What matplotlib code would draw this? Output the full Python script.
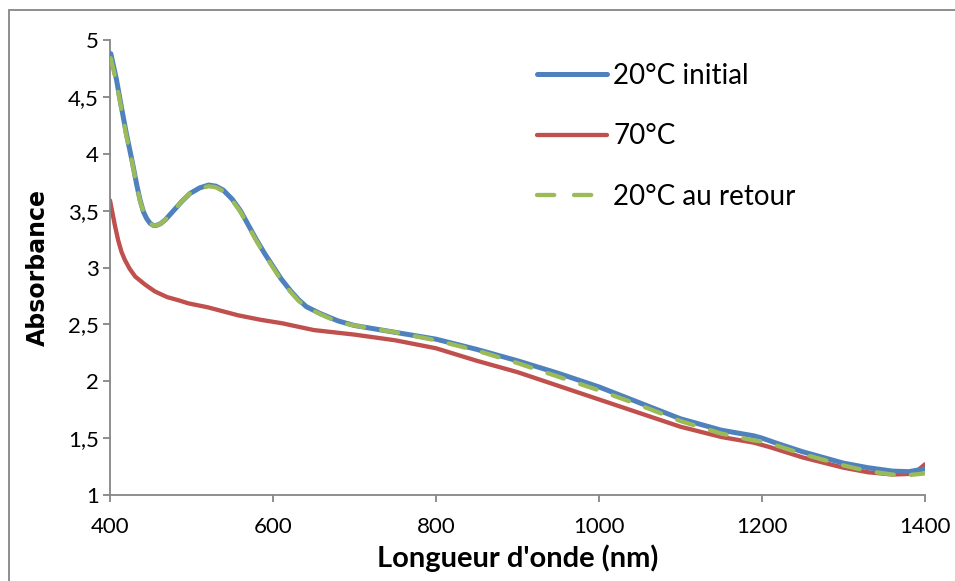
import matplotlib
matplotlib.use("Agg")
import matplotlib.pyplot as plt
from matplotlib.lines import Line2D

plt.rcParams['font.family'] = ['Lato', 'DejaVu Sans']

# 20°C initial
wl_blue = [401, 408, 414, 420, 427, 433, 437, 441, 445, 449, 453, 457, 462, 468, 478, 488, 498, 510,
           521, 530, 539, 550, 560, 570, 580, 590, 600, 610, 621, 631, 641, 658, 680, 700,
           750, 800, 850, 900, 950, 1000, 1050, 1100, 1150, 1190, 1200, 1220, 1250, 1300,
           1330, 1360, 1380, 1400]
abs_blue = [4.88, 4.65, 4.41, 4.18, 3.94, 3.72, 3.59, 3.49, 3.43, 3.39, 3.37, 3.37, 3.385, 3.42, 3.50, 3.58, 3.65, 3.70,
            3.725, 3.715, 3.68, 3.60, 3.50, 3.37, 3.24, 3.12, 3.01, 2.90, 2.80, 2.72, 2.655, 2.595, 2.53, 2.49,
            2.43, 2.37, 2.28, 2.18, 2.07, 1.95, 1.81, 1.67, 1.57, 1.52, 1.50, 1.45, 1.38, 1.28,
            1.24, 1.21, 1.205, 1.23]

# 70°C
wl_red = [400, 403, 406, 410, 414, 418, 424, 431, 443, 455, 470, 485, 496, 520, 557, 585, 611,
          650, 700, 750, 800, 850, 900, 950, 1000, 1050, 1100, 1150, 1190, 1210, 1250, 1300,
          1330, 1360, 1380, 1390, 1400]
abs_red = [3.59, 3.48, 3.37, 3.24, 3.14, 3.07, 2.99, 2.92, 2.85, 2.79, 2.74, 2.71, 2.685, 2.65, 2.58, 2.54, 2.51,
           2.45, 2.41, 2.36, 2.29, 2.18, 2.08, 1.96, 1.84, 1.72, 1.60, 1.51, 1.46, 1.42, 1.33, 1.24,
           1.20, 1.18, 1.185, 1.21, 1.27]

# 20°C au retour
wl_green = [401, 408, 414, 420, 427, 433, 437, 441, 445, 449, 453, 457, 462, 468, 478, 488, 498, 510,
            521, 530, 539, 550, 560, 570, 580, 590, 600, 610, 621, 631, 641, 658, 680, 700,
            750, 800, 850, 900, 950, 1000, 1050, 1100, 1150, 1190, 1200, 1220, 1250, 1300,
            1330, 1360, 1380, 1400]
abs_green = [4.84, 4.62, 4.39, 4.16, 3.93, 3.71, 3.58, 3.49, 3.43, 3.39, 3.37, 3.37, 3.385, 3.42, 3.50, 3.58, 3.65, 3.69,
             3.715, 3.705, 3.67, 3.59, 3.49, 3.36, 3.23, 3.11, 3.00, 2.89, 2.79, 2.71, 2.65, 2.59, 2.52, 2.49,
             2.43, 2.36, 2.27, 2.16, 2.04, 1.92, 1.79, 1.65, 1.54, 1.48, 1.47, 1.43, 1.36, 1.26,
             1.21, 1.18, 1.175, 1.19]

labels = ["20°C initial", "70°C", "20°C au retour"]
x_ticks = [400, 600, 800, 1000, 1200, 1400]
y_ticks = [1, 1.5, 2, 2.5, 3, 3.5, 4, 4.5, 5]
y_ticklabels = ["1", "1,5", "2", "2,5", "3", "3,5", "4", "4,5", "5"]

blue = "#4F81BD"
red = "#C0504D"
green = "#9BBB59"
gray = "#868686"

fig = plt.figure(figsize=(9.55, 5.81), dpi=100)
ax = fig.add_axes([110/955, 1-495/581, 815/955, 455/581])

DASH = (4.0, 4.0)
ax.plot(wl_blue, abs_blue, color=blue, lw=3.6, solid_capstyle='round',
        solid_joinstyle='round', zorder=3)
ax.plot(wl_red, abs_red, color=red, lw=3.1, solid_capstyle='round',
        solid_joinstyle='round', zorder=2)
ax.plot(wl_green, abs_green, color=green, lw=3.1, dashes=DASH, dash_capstyle='round',
        dash_joinstyle='round', zorder=4)

ax.set_xlim(400, 1400)
ax.set_ylim(1, 5)
ax.set_xticks(x_ticks)
ax.set_yticks(y_ticks)
ax.set_yticklabels(y_ticklabels)

for s in ['top', 'right']:
    ax.spines[s].set_visible(False)
for s in ['left', 'bottom']:
    ax.spines[s].set_color(gray)
    ax.spines[s].set_linewidth(1.3)
ax.tick_params(axis='both', direction='out', length=5, width=1.3, color=gray,
               labelsize=16)
ax.tick_params(axis='y', pad=3)
ax.tick_params(axis='x', pad=11)

ax.set_xlabel("Longueur d'onde (nm)", fontsize=21, fontweight='bold', labelpad=5)
ax.set_ylabel("Absorbance", fontsize=17, fontweight='bold', labelpad=13,
              family=['DejaVu Sans'])

handles = [Line2D([], [], color=blue, lw=3.6, solid_capstyle='round'),
           Line2D([], [], color=red, lw=3.1, solid_capstyle='round'),
           Line2D([], [], color=green, lw=3.1, dashes=(4.0, 4.6), dash_capstyle='round')]
leg = ax.legend(handles, labels, loc='upper left', bbox_to_anchor=(0.524, 0.95),
                frameon=False, fontsize=20, handlelength=2.5, handletextpad=0.25,
                labelspacing=1.25, borderpad=0, borderaxespad=0)

# outer chart border (only left and top visible)
fig.add_artist(plt.Rectangle((8.5/955, -0.05), 1.1, 1-10.5/581+0.05,
                             transform=fig.transFigure, fill=False,
                             edgecolor=gray, lw=1.3))

fig.savefig("out.png", dpi=100)
